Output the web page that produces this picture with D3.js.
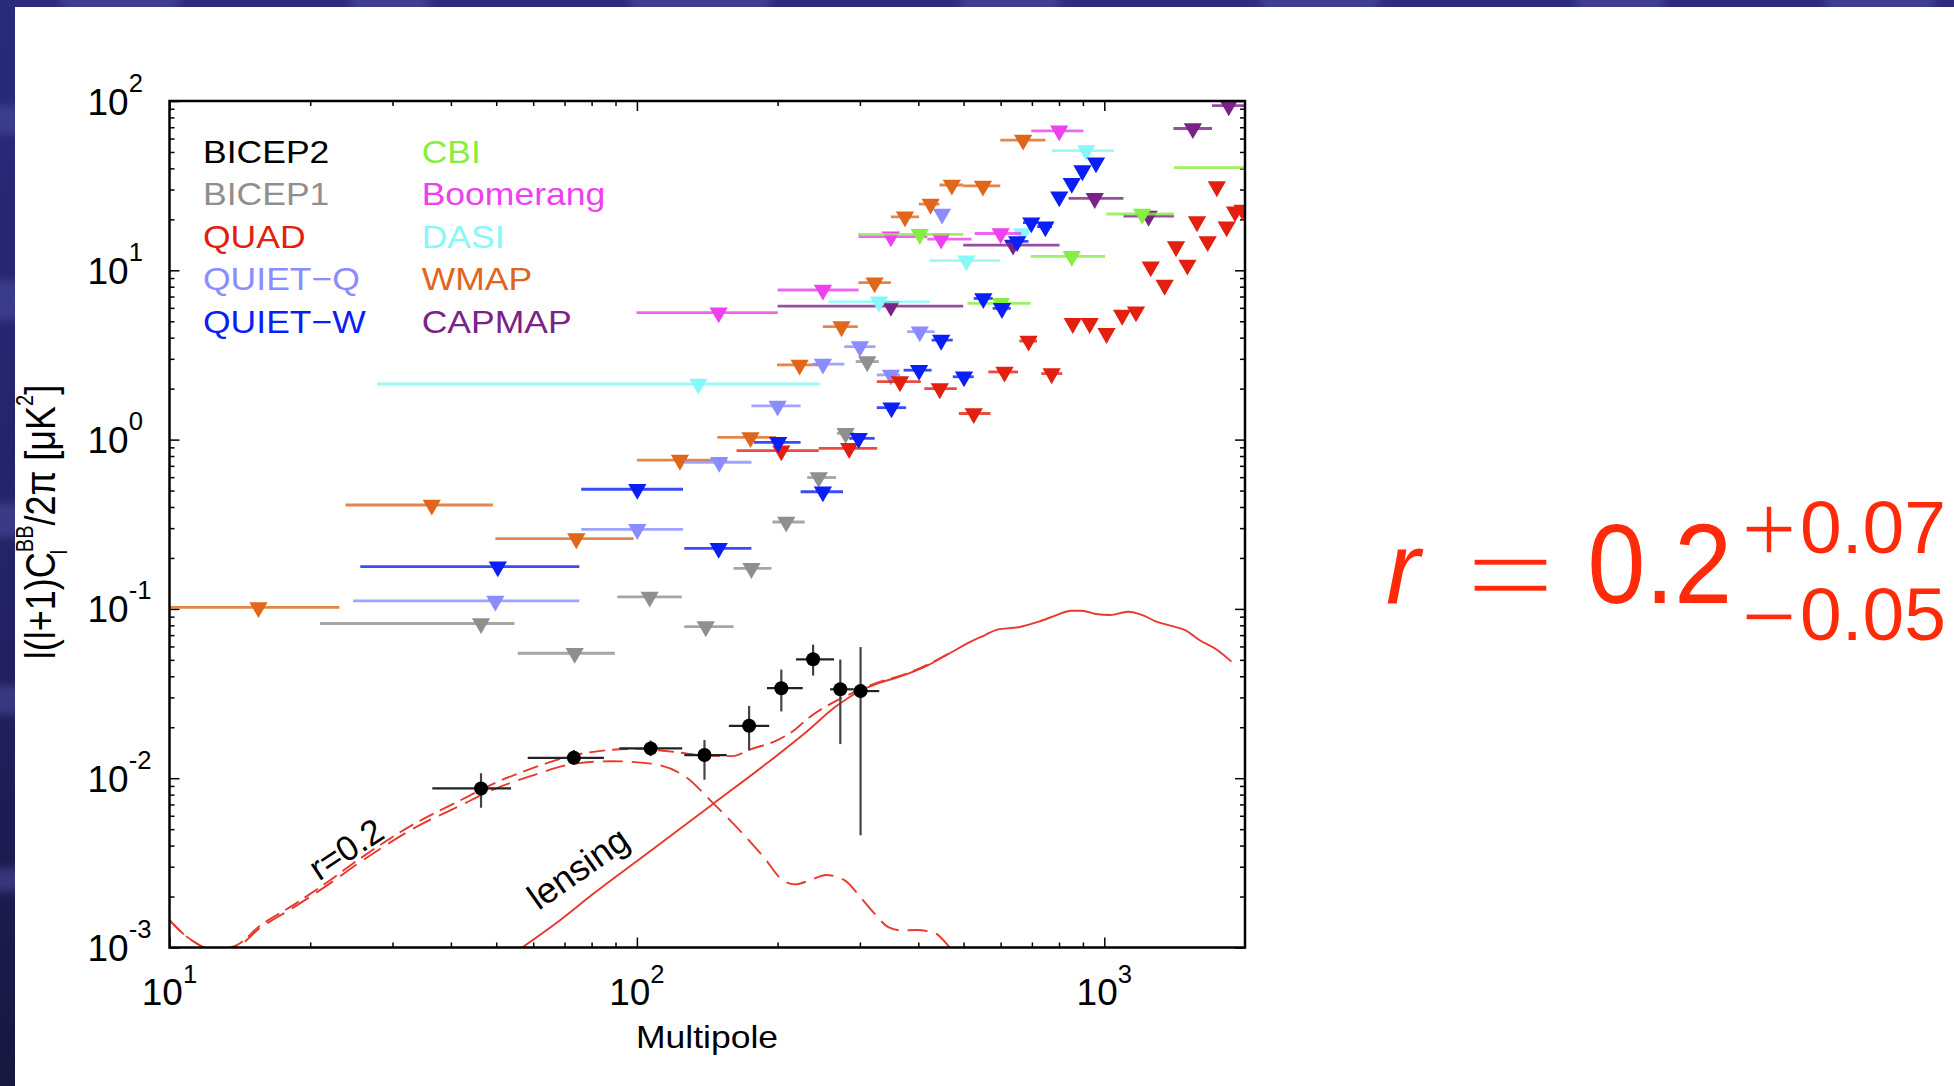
<!DOCTYPE html>
<html>
<head>
<meta charset="utf-8">
<script src="https://cdn.jsdelivr.net/npm/d3@7"></script>
<style>
  html, body { margin: 0; padding: 0; background: #fff; }
  svg { display: block; font-family: "Liberation Sans", Arial, Helvetica, sans-serif; }
</style>
</head>
<body>
<svg id="chart" width="1954" height="1086"></svg>
<script>
// ---------------- data ----------------
const multipoleDomain = [10, 2000];
const powerDomain = [1e-3, 1e2];
const xTickExponents = [1, 2, 3];
const yTickExponents = [-3, -2, -1, 0, 1, 2];

const legendNames = ["BICEP2", "BICEP1", "QUAD", "QUIET\u2212Q", "QUIET\u2212W",
                     "CBI", "Boomerang", "DASI", "WMAP", "CAPMAP"];
const legendColors = ["#000000", "#8f8f8f", "#e3200f", "#8a8cff", "#0a1ef5",
                      "#86ee40", "#ee40ee", "#86f8f8", "#e0661c", "#7a2288"];

// upper limits: [ell, ell low, ell high, 95% upper limit in uK^2]
const capmapLimits = [
  [349.5, 200, 499, 6.14], [638, 499, 802, 14.1], [954, 838.6, 1099, 26.6],
  [1244, 1099, 1409, 20.9], [1547, 1406, 1700, 68.8], [1846, 1700, 2000, 93.8]
];
const dasiLimits = [
  [135.4, 27.8, 246.3, 2.13], [329.4, 256.8, 422.6, 6.51], [507, 422.6, 599, 11.4],
  [667, 640, 690, 16.5], [915, 771.5, 1049, 50.9]
];
const wmapLimits = [
  [15.5, 10, 23.1, 0.102], [36.4, 23.8, 49.2, 0.411], [74.2, 49.8, 98.4, 0.26],
  [123.6, 100, 156, 0.757], [175, 148.6, 198.5, 1.03], [222.9, 199.4, 246, 2.76],
  [274, 250, 297, 4.65], [322.6, 297.8, 349.5, 8.45], [374.6, 349.5, 401.5, 20.7],
  [425, 401, 444, 24.6], [471.8, 444, 499, 31.9], [550, 499, 599, 31.5],
  [670.5, 599, 748, 58.8]
];
const boomerangLimits = [
  [149.6, 99.8, 200.3, 5.62], [250, 200, 298, 7.65], [349.5, 298, 418, 15.8],
  [447.7, 418, 520, 15.3], [600, 528, 664, 16.5], [801, 698, 902, 66.7]
];
const cbiLimits = [
  [402.9, 297.3, 499, 16.3], [601, 509.5, 696, 6.38], [852, 696, 1004, 12.1],
  [1205, 1010, 1409, 21.5], [2150, 1409, 3000, 40.4]
];
const bicep1Limits = [
  [46.4, 21, 54.7, 0.082], [73.6, 55.6, 89.7, 0.0547], [106.5, 90.8, 124.7, 0.1177],
  [140.4, 126.3, 161, 0.0786], [175.8, 161, 194, 0.1735], [208.7, 195, 228.6, 0.326],
  [244.9, 231.4, 266.7, 0.597], [279.6, 268, 291, 1.09], [311, 293.8, 329.4, 2.89]
];
const quietQLimits = [
  [49.8, 24.7, 75.3, 0.1114], [100.2, 76, 125.5, 0.295], [150, 126.3, 175.8, 0.735],
  [200, 175.8, 224, 1.58], [250, 236.8, 277.8, 2.795], [300, 277.8, 324, 3.54],
  [349.5, 326, 365.5, 2.41], [402.9, 378.6, 433.6, 4.34], [449.6, 440, 460, 21.5]
];
const quadLimits = [
  [203.7, 163.4, 244.9, 0.86], [284.6, 244.9, 326.6, 0.888], [365.5, 326, 405, 2.2],
  [444.6, 412, 483.6, 2.0], [525.6, 488.5, 571, 1.426], [611.6, 564.8, 653.9, 2.51],
  [688.5, 658, 718, 3.82], [771.5, 733, 812.8, 2.455], [856, 838, 874, 4.86],
  [930.6, 912, 950, 4.86], [1011, 990, 1032, 4.24], [1092, 1070, 1114, 5.44],
  [1169, 1146, 1192, 5.69], [1257, 1257, 1257, 10.5], [1346, 1346, 1346, 8.18],
  [1424, 1424, 1424, 13.8], [1506, 1506, 1506, 10.76], [1579, 1579, 1579, 19.4],
  [1664, 1664, 1664, 14.8], [1741, 1741, 1741, 31.2], [1827, 1827, 1827, 18.1],
  [1904, 1904, 1904, 22.2], [1975, 1975, 1975, 22.7]
];
const quietWLimits = [
  [50.4, 25.6, 75.3, 0.1776], [100.2, 76, 125.5, 0.509], [149.6, 126.3, 175.8, 0.228],
  [200.6, 178, 224, 0.963], [250, 224, 276, 0.492], [298.2, 284.6, 322.6, 1.017],
  [350.5, 326, 376.7, 1.544], [401.5, 372, 427, 2.57], [447.7, 427, 474, 3.87],
  [501, 474, 525.6, 2.35], [551, 525.6, 577, 6.82], [604, 577, 631, 5.96],
  [651, 614, 688.5, 14.8], [698, 670, 718, 19.1], [748, 718, 773, 18.1],
  [801, 801, 801, 27.2], [852, 852, 852, 32.7], [898, 898, 898, 38.8], [960, 960, 960, 43.2]
];

// BICEP2 band powers: [ell, value, ell low, ell high, value low, value high]
const bicep2Points = [
  [46.4, 0.0087, 36.5, 53.8, 0.0067, 0.0107],
  [73.3, 0.0132, 58.4, 85, 0.0120, 0.0147],
  [107, 0.0150, 91.7, 125, 0.0135, 0.0167],
  [139.5, 0.0137, 126.3, 155.7, 0.0098, 0.0168],
  [173.8, 0.0204, 157.3, 191.9, 0.0146, 0.0267],
  [203.7, 0.0340, 189.8, 226.4, 0.0248, 0.0438],
  [238.2, 0.0504, 219, 264, 0.0404, 0.0615],
  [272.4, 0.0335, 259, 291, 0.0159, 0.0502],
  [301, 0.0327, 291, 330, 0.0046, 0.0595]
];

// model spectra
const tensorEll = [10, 10.8, 11.8, 12.5, 13.9, 15.6, 18.4, 21.7, 25.6, 33.3, 41.9, 49.4, 60,
  73.6, 88, 107, 127, 145, 165, 187, 205, 218, 235, 254, 278, 300, 322, 345, 370, 395, 433, 467, 490];
const tensorPower = [0.00145, 0.00118, 0.00101, 0.00097, 0.00101, 0.00130, 0.00172, 0.00232,
  0.00320, 0.00505, 0.00690, 0.00860, 0.0104, 0.0122, 0.0126, 0.0122, 0.0102, 0.0072, 0.0050,
  0.0034, 0.0025, 0.00236, 0.0025, 0.00268, 0.0025, 0.0020, 0.00159, 0.00132, 0.00126, 0.00127,
  0.00122, 0.00100, 0.00085];

const totalEll = [10, 10.8, 11.8, 12.5, 13.9, 15.6, 18.4, 21.7, 25.6, 33.3, 41.9, 49.4, 60,
  73.6, 88, 100, 120, 140, 160, 175, 200, 217, 232, 272, 298, 328, 365, 420, 467];
const totalPower = [0.00145, 0.00118, 0.00101, 0.00097, 0.00103, 0.00134, 0.00178, 0.00242,
  0.00336, 0.00535, 0.00740, 0.00930, 0.0115, 0.0137, 0.0147, 0.0149, 0.0143, 0.0136, 0.0135,
  0.0148, 0.0168, 0.0192, 0.0225, 0.0294, 0.0330, 0.0368, 0.0402, 0.0470, 0.0551];

const lensingEll = [56.8, 68.7, 80.9, 101.9, 145, 195, 229, 266, 298, 328, 365, 420, 467, 518,
  556, 586, 663, 724, 791, 848, 894, 959, 1029, 1124, 1206, 1293, 1412, 1489, 1597, 1744, 1871];
const lensingPower = [0.00100, 0.00146, 0.00209, 0.00337, 0.0070, 0.0130, 0.0185, 0.0264,
  0.0324, 0.0363, 0.0398, 0.0466, 0.0547, 0.0640, 0.0701, 0.0750, 0.0785, 0.0840, 0.0920,
  0.0976, 0.0976, 0.0933, 0.0920, 0.0962, 0.0920, 0.0840, 0.0785, 0.0750, 0.0655, 0.0572, 0.0488];

// ---------------- layout ----------------
const W = 1954, H = 1086;
const plot = { left: 169.5, right: 1245, top: 101, bottom: 947.5 };
const modelRed = "#e8392c";
const eqRed = "#ff2a0a";

const svg = d3.select("#chart");
const defs = svg.append("defs");

// slide background: white page with a navy textured border on top and left
const leftGrad = defs.append("linearGradient").attr("id", "leftBand")
  .attr("x1", 0).attr("y1", 0).attr("x2", 0).attr("y2", 1);
leftGrad.append("stop").attr("offset", "0%").attr("stop-color", "#2a2a7c");
leftGrad.append("stop").attr("offset", "55%").attr("stop-color", "#222266");
leftGrad.append("stop").attr("offset", "100%").attr("stop-color", "#17173f");
defs.append("filter").attr("id", "soft").append("feGaussianBlur").attr("stdDeviation", 4);
defs.append("clipPath").attr("id", "bandClip").call(c => {
  c.append("rect").attr("x", 0).attr("y", 0).attr("width", W).attr("height", 7);
  c.append("rect").attr("x", 0).attr("y", 0).attr("width", 15).attr("height", H);
});

svg.append("rect").attr("width", W).attr("height", H).attr("fill", "#ffffff");
const band = svg.append("g").attr("clip-path", "url(#bandClip)");
band.append("rect").attr("width", W).attr("height", 7).attr("fill", "#2c2b7e");
band.append("rect").attr("width", 15).attr("height", H).attr("fill", "url(#leftBand)");
const mottles = band.append("g").attr("filter", "url(#soft)").attr("fill", "#5656ac").attr("opacity", 0.45);
[[120, 0, 60], [390, 2, 40], [700, 0, 70], [1010, 3, 50], [1320, 0, 60], [1620, 2, 45], [1880, 0, 55],
 [6, 120, 30], [4, 300, 40], [8, 520, 35], [5, 700, 30], [7, 880, 25]]
  .forEach(([cx, cy, r]) => mottles.append("ellipse").attr("cx", cx).attr("cy", cy)
    .attr("rx", r).attr("ry", r * 0.5));

// ---------------- scales & axes ----------------
const x = d3.scaleLog().domain(multipoleDomain).range([plot.left, plot.right]);
const y = d3.scaleLog().domain(powerDomain).range([plot.bottom, plot.top]);

const majorX = xTickExponents.map(e => 10 ** e);
const minorX = [];
xTickExponents.forEach(e => { for (let k = 2; k <= 9; k++) { const v = k * 10 ** e; if (v < multipoleDomain[1]) minorX.push(v); } });
const majorY = yTickExponents.map(e => 10 ** e);
const minorY = [];
yTickExponents.slice(0, -1).forEach(e => { for (let k = 2; k <= 9; k++) minorY.push(k * 10 ** e); });

function drawAxis(axisFn, scale, values, size, tx, ty) {
  const g = svg.append("g").attr("transform", `translate(${tx},${ty})`)
    .call(axisFn(scale).tickValues(values).tickSize(-size).tickSizeOuter(0).tickFormat(""));
  g.select(".domain").remove();
  g.selectAll(".tick line").attr("stroke", "#000").attr("stroke-width", 1.5);
}
drawAxis(d3.axisBottom, x, majorX, 10, 0, plot.bottom);
drawAxis(d3.axisBottom, x, minorX, 5, 0, plot.bottom);
drawAxis(d3.axisTop, x, majorX, 10, 0, plot.top);
drawAxis(d3.axisTop, x, minorX, 5, 0, plot.top);
drawAxis(d3.axisLeft, y, majorY, 10, plot.left, 0);
drawAxis(d3.axisLeft, y, minorY, 5, plot.left, 0);
drawAxis(d3.axisRight, y, majorY, 10, plot.right, 0);
drawAxis(d3.axisRight, y, minorY, 5, plot.right, 0);

// tick labels as powers of ten
xTickExponents.forEach(e => {
  const t = svg.append("text").attr("x", x(10 ** e)).attr("y", 1005)
    .attr("text-anchor", "middle").attr("font-size", 37).attr("fill", "#000");
  t.append("tspan").text("10");
  t.append("tspan").attr("dy", -22).attr("font-size", 25.6).text(String(e));
});
yTickExponents.forEach(e => {
  const t = svg.append("text").attr("x", 87.5).attr("y", y(10 ** e) + 13.5)
    .attr("font-size", 37).attr("fill", "#000");
  t.append("tspan").text("10");
  t.append("tspan").attr("dy", -23).attr("font-size", 25.6).text(e < 0 ? "-" + (-e) : String(e));
});

// axis titles
svg.append("g").attr("transform", "translate(707,1048) scale(1.11,1)")
  .append("text").attr("text-anchor", "middle").attr("font-size", 32).text("Multipole");

const yTitle = svg.append("g").attr("transform", "translate(55,522) rotate(-90) scale(1,1.16)");
const yt = yTitle.append("text").attr("text-anchor", "middle").attr("font-size", 36);
yt.append("tspan").text("l(l+1)C");
yt.append("tspan").attr("dy", -18.7).attr("font-size", 20).text("BB");
yt.append("tspan").attr("dy", 18.7).text("/2\u03c0 [\u03bcK");
yt.append("tspan").attr("dy", -18.7).attr("font-size", 20).text("2");
yt.append("tspan").attr("dy", 18.7).text("]");
const subPos = yt.node().getStartPositionOfChar(7);
yTitle.append("text").attr("x", subPos.x - 2).attr("y", 10).attr("font-size", 20).text("l");

// ---------------- plot contents ----------------
defs.append("clipPath").attr("id", "plotClip").append("rect")
  .attr("x", plot.left).attr("y", plot.top)
  .attr("width", plot.right - plot.left).attr("height", plot.bottom - plot.top);
const body = svg.append("g").attr("clip-path", "url(#plotClip)");

const line = d3.line().x(d => x(d[0])).y(d => y(d[1])).curve(d3.curveMonotoneX);
const zip = (a, b) => a.map((v, i) => [v, b[i]]);

body.append("path").datum(zip(lensingEll, lensingPower)).attr("d", line)
  .attr("fill", "none").attr("stroke", modelRed).attr("stroke-width", 1.9);
body.append("path").datum(zip(tensorEll, tensorPower)).attr("d", line)
  .attr("fill", "none").attr("stroke", modelRed).attr("stroke-width", 1.9)
  .attr("stroke-dasharray", "20,9");
body.append("path").datum(zip(totalEll, totalPower)).attr("d", line)
  .attr("fill", "none").attr("stroke", modelRed).attr("stroke-width", 1.9)
  .attr("stroke-dasharray", "16,7");

const tri = d3.symbol().type(d3.symbolTriangle).size(145)();
function drawLimits(rows, color) {
  const g = body.append("g");
  g.selectAll("line").data(rows).join("line")
    .attr("x1", d => x(d[1])).attr("x2", d => x(d[2]))
    .attr("y1", d => y(d[3])).attr("y2", d => y(d[3]))
    .attr("stroke", color).attr("stroke-width", 2.8).attr("stroke-opacity", 0.8);
  g.selectAll("path").data(rows).join("path")
    .attr("d", tri)
    .attr("transform", d => `translate(${x(d[0])},${y(d[3])}) rotate(180)`)
    .attr("fill", color);
}
drawLimits(capmapLimits, legendColors[9]);
drawLimits(dasiLimits, legendColors[7]);
drawLimits(wmapLimits, legendColors[8]);
drawLimits(boomerangLimits, legendColors[6]);
drawLimits(cbiLimits, legendColors[5]);
drawLimits(bicep1Limits, legendColors[1]);
drawLimits(quietQLimits, legendColors[3]);
drawLimits(quadLimits, legendColors[2]);
drawLimits(quietWLimits, legendColors[4]);

const b2 = body.append("g");
b2.selectAll("line.h").data(bicep2Points).join("line").attr("class", "h")
  .attr("x1", d => x(d[2])).attr("x2", d => x(d[3]))
  .attr("y1", d => y(d[1])).attr("y2", d => y(d[1]))
  .attr("stroke", "#222").attr("stroke-width", 2.2);
b2.selectAll("line.v").data(bicep2Points).join("line").attr("class", "v")
  .attr("x1", d => x(d[0])).attr("x2", d => x(d[0]))
  .attr("y1", d => y(d[4])).attr("y2", d => y(d[5]))
  .attr("stroke", "#444").attr("stroke-width", 2.2);
b2.selectAll("circle").data(bicep2Points).join("circle")
  .attr("cx", d => x(d[0])).attr("cy", d => y(d[1])).attr("r", 7).attr("fill", "#000");

// frame
svg.append("rect").attr("x", plot.left).attr("y", plot.top)
  .attr("width", plot.right - plot.left).attr("height", plot.bottom - plot.top)
  .attr("fill", "none").attr("stroke", "#000").attr("stroke-width", 2.5);

// curve labels
svg.append("text").attr("transform", "translate(346,849) rotate(-33.5)")
  .attr("text-anchor", "middle").attr("dy", "0.35em").attr("font-size", 35).text("r=0.2");
svg.append("text").attr("transform", "translate(578,868) rotate(-35)")
  .attr("text-anchor", "middle").attr("dy", "0.35em").attr("font-size", 36).text("lensing");

// legend
const legend = svg.append("g").attr("transform", "translate(203,0) scale(1.11,1)");
const legendRows = [163, 205.5, 248, 290.5, 333];
legendNames.forEach((name, i) => {
  legend.append("text")
    .attr("x", i < 5 ? 0 : 197)
    .attr("y", legendRows[i % 5])
    .attr("font-size", 32).attr("fill", legendColors[i]).text(name);
});

// fitted tensor-to-scalar ratio, r = 0.2 (+0.07 / -0.05)
const eq = svg.append("g").attr("fill", eqRed);
eq.append("text").attr("x", 1386).attr("y", 603).attr("font-size", 102)
  .attr("font-style", "italic").text("r");
eq.append("text").attr("x", 1465).attr("y", 609).attr("font-size", 103)
  .attr("textLength", 91).attr("lengthAdjust", "spacingAndGlyphs")
  .attr("stroke", "#fff").attr("stroke-width", 2.6).text("=");
eq.append("g").attr("transform", "translate(1587.5,603) scale(1,1.09)")
  .append("text").attr("font-size", 104).text("0.2");

const upper = eq.append("text").attr("x", 1738).attr("y", 553);
upper.append("tspan").attr("font-family", "'DejaVu Sans', sans-serif").attr("font-size", 74)
  .attr("stroke", "#fff").attr("stroke-width", 1.6).text("+");
upper.append("tspan").attr("font-size", 75).text("0.07");

const lower = eq.append("text").attr("x", 1738).attr("y", 640);
lower.append("tspan").attr("font-family", "'DejaVu Sans', sans-serif").attr("font-size", 74)
  .attr("stroke", "#fff").attr("stroke-width", 1.6).text("\u2212");
lower.append("tspan").attr("font-size", 75).text("0.05");
</script>
</body>
</html>
